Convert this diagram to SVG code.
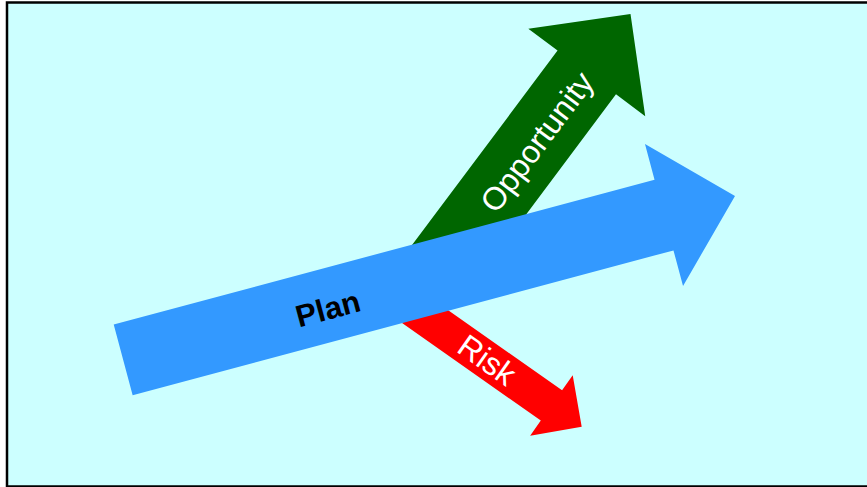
<svg xmlns="http://www.w3.org/2000/svg" width="867" height="487" viewBox="0 0 867 487">
<style>
.lbl{font-family:"Liberation Sans",Arial,sans-serif;text-anchor:middle;dominant-baseline:central}
.w{fill:#FFFFFF;font-size:32px}
.b{fill:#000000;font-size:31px;font-weight:bold}
</style>
<rect x="0" y="0" width="867" height="487" fill="#FFFFFF"/>
<rect id="frame" x="7" y="2.5" width="880" height="484" fill="#CCFFFF" stroke="#000000" stroke-width="2.5"/>
<g id="connectors">
<g id="opportunity" transform="translate(630.5,14) rotate(-53.2)">
<polygon points="0,0 -73,-73 -73,-36.5 -325,-36.5 -325,36.5 -73,36.5 -73,73" fill="#006600"/>
</g>
<g id="risk" transform="translate(581.7,426.7) rotate(35.1)">
<polygon points="0,0 -37,-37 -37,-18.5 -230,-18.5 -230,18.5 -37,18.5 -37,37" fill="#FF0000"/>
</g>
<g id="plan" transform="translate(735,196) rotate(-15)">
<polygon points="0,0 -73.5,-73.5 -73.5,-36.6 -633.4,-36.6 -633.4,36.6 -73.5,36.6 -73.5,73.5" fill="#3399FF"/>
</g>
</g>
<g id="labels">
<text class="lbl w" transform="translate(537,142) rotate(-53.2)">Opportunity</text>
<text class="lbl w" transform="translate(487,360) rotate(35.1)">Risk</text>
<text class="lbl b" transform="translate(328,309) rotate(-15)">Plan</text>
</g>
</svg>
